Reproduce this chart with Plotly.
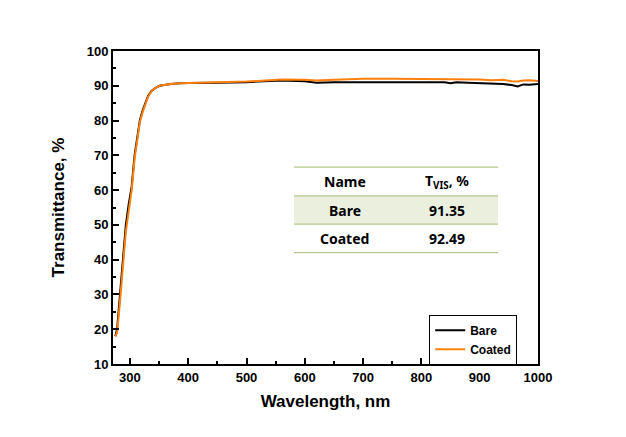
import plotly.graph_objects as go

wl_bare = [275, 278, 283, 288, 293, 298, 303, 308, 313, 317, 322, 326, 331, 337, 344, 351, 360, 370, 386, 400, 450, 500, 530, 560, 600, 620, 650, 700, 750, 800, 840, 850, 860, 880, 900, 920, 940, 955, 965, 975, 985, 1000]
t_bare = [18, 20, 30, 40, 50, 56, 61, 70, 76, 80, 83, 85, 87, 88.5, 89.4, 90.0, 90.3, 90.5, 90.7, 90.8, 90.9, 91.0, 91.3, 91.5, 91.3, 90.9, 91.0, 91.0, 91.1, 91.1, 91.0, 90.7, 91.0, 90.9, 90.8, 90.6, 90.5, 90.2, 89.8, 90.4, 90.3, 90.5]

wl_coat = [275, 278, 283, 288, 293, 298, 303, 308, 313, 317, 322, 326, 331, 337, 344, 351, 360, 370, 386, 400, 450, 500, 530, 560, 600, 620, 650, 700, 750, 800, 840, 850, 860, 880, 900, 920, 940, 955, 965, 975, 985, 1000]
t_coat = [18, 19, 28, 38, 48, 54, 60, 69, 75, 79.5, 82.5, 84.7, 86.8, 88.4, 89.4, 90.0, 90.3, 90.5, 90.7, 90.8, 91.0, 91.2, 91.5, 91.8, 91.7, 91.5, 91.7, 92.0, 92.0, 92.0, 91.9, 91.8, 92.0, 91.8, 91.8, 91.6, 91.7, 91.3, 91.2, 91.5, 91.6, 91.4]

table_names = ["Bare", "Coated"]
table_tvis = ["91.35", "92.49"]

fig = go.Figure()
fig.add_trace(go.Scatter(x=wl_bare, y=t_bare, mode="lines", name="Bare",
                         line=dict(color="black", width=2)))
fig.add_trace(go.Scatter(x=wl_coat, y=t_coat, mode="lines", name="Coated",
                         line=dict(color="#ff7f0e", width=2)))

axis_font = dict(family="Liberation Sans, Arial", size=13, color="black", weight="bold")
title_font = dict(family="Liberation Sans, Arial", size=17, color="black", weight="bold")
fig.update_xaxes(range=[271, 1000], tickmode="linear", tick0=300, dtick=100,
                 ticks="inside", ticklen=6, tickwidth=2, tickcolor="black",
                 minor=dict(ticks="inside", ticklen=3, tickwidth=1.5, tickcolor="black", dtick=50, tick0=300),
                 showline=True, linewidth=2, linecolor="black", mirror=True,
                 showgrid=False, zeroline=False,
                 tickfont=axis_font,
                 title=dict(text="Wavelength, nm", font=title_font, standoff=12))
fig.update_yaxes(range=[10, 100], tickmode="linear", tick0=10, dtick=10,
                 ticks="inside", ticklen=6, tickwidth=2, tickcolor="black",
                 minor=dict(ticks="inside", ticklen=3, tickwidth=1.5, tickcolor="black", dtick=5, tick0=10),
                 showline=True, linewidth=2, linecolor="black", mirror=True,
                 showgrid=False, zeroline=False,
                 tickfont=axis_font,
                 title=dict(text="Transmittance, %", font=title_font, standoff=18))

# Table shapes (paper coords)
xl, xr = 0.426, 0.906
ys = [0.629, 0.537, 0.447, 0.356]
shapes = [dict(type="rect", xref="paper", yref="paper", x0=xl, x1=xr, y0=ys[2], y1=ys[1],
               fillcolor="#ebf0de", line=dict(width=0), layer="below")]
for y in ys:
    shapes.append(dict(type="line", xref="paper", yref="paper", x0=xl, x1=xr, y0=y, y1=y,
                       line=dict(color="#b5c98a", width=1.2)))
fig.update_layout(shapes=shapes)

tfont = dict(family="Noto Sans", size=14, color="black", weight="bold")
ann = [
    dict(text="Name", x=0.545, y=0.583),
    dict(text="T<sub>VIS</sub>, %", x=0.785, y=0.583),
]
row_y = [0.492, 0.401]
for name, val, y in zip(table_names, table_tvis, row_y):
    ann.append(dict(text=name, x=0.545, y=y))
    ann.append(dict(text=val, x=0.785, y=y))
for a in ann:
    a.update(xref="paper", yref="paper", showarrow=False, font=tfont, xanchor="center", yanchor="middle")
fig.update_layout(annotations=ann)

fig.update_layout(
    width=618, height=429,
    margin=dict(l=105, r=88, t=43, b=73),
    paper_bgcolor="white", plot_bgcolor="white",
    showlegend=True,
    legend=dict(x=0.744, y=0.157, xanchor="left", yanchor="top",
                bgcolor="white", bordercolor="black", borderwidth=1,
                font=dict(family="Liberation Sans, Arial", size=12, color="black", weight="bold"),
                tracegroupgap=0, itemwidth=30),
)

fig.write_html("out.html")
